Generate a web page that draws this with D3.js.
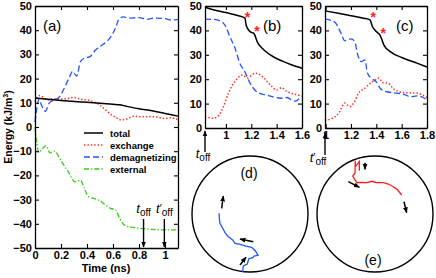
<!DOCTYPE html>
<html><head><meta charset="utf-8">
<script src="https://cdn.jsdelivr.net/npm/d3@7"></script>
<style>
body{margin:0;background:#fff;}
svg{display:block;font-family:"Liberation Sans",Arial,sans-serif;}
.tick text{font-size:11px;font-weight:bold;fill:#000;}
</style></head><body>
<script>
// ---------- Panel (a) data ----------
const totalT = [0, 0.2, 0.4, 0.6, 0.65, 0.7, 0.8, 0.9, 1.0, 1.1];
const totalV = [12, 11, 10.2, 9.4, 9.2, 8.6, 7.5, 6.7, 5.6, 4.5];
const exchangeT = [0, 0.02, 0.04, 0.07, 0.1, 0.14, 0.2, 0.25, 0.3, 0.35, 0.42, 0.46, 0.5, 0.54, 0.58, 0.62, 0.66, 0.7, 0.76, 0.82, 0.88, 0.95, 1.0, 1.05, 1.1];
const exchangeV = [10.5, 12.5, 13, 12, 11.2, 11.7, 11.5, 11.8, 12.2, 11.5, 11, 10.2, 9, 7.2, 5.3, 4, 3, 3.2, 4.5, 4.2, 4.3, 4, 3.5, 3.8, 3];
const demagT = [0, 0.015, 0.03, 0.05, 0.08, 0.11, 0.14, 0.18, 0.22, 0.26, 0.29, 0.32, 0.35, 0.38, 0.42, 0.47, 0.52, 0.58, 0.62, 0.65, 0.68, 0.72, 0.8, 0.86, 0.92, 1.0, 1.05, 1.1];
const demagV = [2, 8, 11.5, 9, 6.5, 10, 11, 12, 15.5, 20, 23, 21, 27, 28.5, 29, 32, 34, 37, 41, 45, 45.5, 45, 45.2, 44.5, 45, 44.8, 44.2, 44.5];
const externalT = [0, 0.01, 0.03, 0.05, 0.085, 0.115, 0.15, 0.2, 0.25, 0.31, 0.35, 0.38, 0.41, 0.45, 0.5, 0.55, 0.58, 0.62, 0.65, 0.7, 0.8, 0.9, 1.0, 1.1];
const externalV = [0, -5, -10.5, -9.5, -7.7, -10.7, -10, -14, -18, -22.7, -22, -25.4, -28.7, -29.5, -30.5, -32.5, -33.6, -34.2, -37.7, -40.9, -41.8, -42.3, -42.5, -42.5];
const tOff = 0.835, tOffPrime = 0.995;
const xTicksA = [0, 0.2, 0.4, 0.6, 0.8, 1];
const yTicksA = [-50, -40, -30, -20, -10, 0, 10, 20, 30, 40, 50];
const legendLabels = ["total", "exchange", "demagnetizing", "external"];

// ---------- Panel (b) data ----------
const bTotalT = [0.835, 0.9, 1.0, 1.1, 1.15, 1.16, 1.19, 1.22, 1.25, 1.3, 1.38, 1.45, 1.51, 1.6];
const bTotalV = [49.5, 48.5, 47.3, 46, 45, 42, 39.5, 38.8, 35, 32, 29, 27.3, 26, 24.5];
const bDemagT = [0.835, 0.9, 0.95, 0.98, 1.0, 1.03, 1.07, 1.11, 1.15, 1.19, 1.24, 1.28, 1.32, 1.37, 1.43, 1.48, 1.52, 1.55, 1.58, 1.6];
const bDemagV = [44.6, 44.5, 44, 43, 41.5, 37.5, 33, 26.5, 23, 18.4, 15, 14, 13.5, 12.8, 12.2, 12.5, 11.5, 11, 12, 11.5];
const bExchT = [0.835, 0.87, 0.9, 0.93, 0.96, 0.98, 1.02, 1.07, 1.13, 1.17, 1.2, 1.23, 1.3, 1.35, 1.4, 1.44, 1.48, 1.53, 1.57, 1.6];
const bExchV = [4.5, 4.2, 4, 4.5, 6.5, 8.7, 14.3, 19, 21.7, 20.5, 21.5, 22.5, 20.5, 17.6, 15.6, 16.5, 15, 14, 13.5, 13];
const bStarT = [1.17, 1.245];
const bStarV = [46, 40];
const xTicksB = [1, 1.2, 1.4, 1.6];

// ---------- Panel (c) data ----------
const cTotalT = [0.995, 1.1, 1.2, 1.3, 1.35, 1.37, 1.4, 1.43, 1.46, 1.51, 1.61, 1.72, 1.8];
const cTotalV = [48, 47, 46, 45, 44.3, 41.5, 39.5, 38, 34, 31.3, 28.7, 26.6, 25];
const cDemagT = [0.995, 1.07, 1.12, 1.15, 1.2, 1.23, 1.25, 1.28, 1.31, 1.33, 1.36, 1.4, 1.43, 1.47, 1.56, 1.62, 1.67, 1.72, 1.77, 1.8];
const cDemagV = [44.6, 43.5, 39, 35.8, 36.5, 35.4, 30.6, 27.2, 27.9, 22.5, 20.4, 18.9, 16.3, 15, 14.3, 13.8, 12.8, 13.2, 12.5, 11.5];
const cExchT = [0.995, 1.06, 1.11, 1.15, 1.19, 1.22, 1.26, 1.31, 1.35, 1.39, 1.42, 1.45, 1.49, 1.54, 1.62, 1.72, 1.8];
const cExchV = [3.2, 4.1, 6.6, 10.2, 8.8, 10.1, 14.3, 16.3, 18.3, 19.7, 20.5, 18.6, 18.4, 15.9, 14.5, 14.3, 12.5];
const cStarT = [1.375, 1.455];
const cStarV = [45.8, 39.5];
const xTicksC = [1, 1.2, 1.4, 1.6, 1.8];
const yTicksBC = [0, 10, 20, 30, 40, 50];

// ---------- Panels (d), (e): magnetization paths in unit-disc coordinates ----------
const dPathU = [-0.126, -0.116, -0.047, -0.022, 0.047, 0.069, 0.138, 0.091, 0.029, -0.069, -0.172, -0.259, -0.298, -0.374, -0.431, -0.471, -0.517, -0.529, -0.534];
const dPathV = [-1.0, -0.897, -0.862, -0.771, -0.753, -0.724, -0.712, -0.633, -0.574, -0.552, -0.522, -0.505, -0.448, -0.391, -0.322, -0.246, -0.160, -0.074, 0.012];
const dArrows = [[-0.488, 0.098, -0.460, 0.310], [0.057, -0.478, -0.172, -0.431], [-0.172, -0.879, -0.069, -0.747]];
const ePathU = [-0.270, -0.270, -0.340, -0.340, -0.345, -0.384, -0.316, -0.247, -0.143, -0.057, 0.029, 0.143, 0.229, 0.316, 0.391, 0.460];
const ePathV = [0.747, 0.902, 0.816, 0.919, 0.702, 0.655, 0.540, 0.546, 0.540, 0.564, 0.540, 0.540, 0.517, 0.471, 0.414, 0.328];
const eArrows = [[-0.172, 0.884, -0.172, 0.770], [-0.460, 0.557, -0.270, 0.460], [0.5, 0.212, 0.546, 0.022]];

// ---------- styles ----------
const styles = {
  total: {stroke: "#000", dash: null, w: 1.5},
  exchange: {stroke: "#ff2a1a", dash: "1.4,2", w: 1.5},
  demag: {stroke: "#2255ff", dash: "6,3", w: 1.3},
  external: {stroke: "#33cc11", dash: "5,2,1.3,2", w: 1.3}
};

const W = 436, H = 278;
const svg = d3.select("body").append("svg").attr("width", W).attr("height", H);
const defs = svg.append("defs");
defs.append("marker").attr("id", "ah").attr("viewBox", "0 0 10 10").attr("refX", 9).attr("refY", 5)
  .attr("markerWidth", 6).attr("markerHeight", 6).attr("markerUnits", "userSpaceOnUse").attr("orient", "auto")
  .append("path").attr("d", "M0,1 L10,5 L0,9 Z").attr("fill", "#000");

function zip(t, v) { return t.map((d, i) => [d, v[i]]); }

function drawFrame(g, x, y, xt, yt) {
  const [x0, x1] = x.range(), [y0, y1] = y.range();
  const ts = 4;
  g.append("g").attr("transform", `translate(0,${y0})`)
    .call(d3.axisBottom(x).tickValues(xt).tickSizeInner(-ts).tickSizeOuter(0).tickPadding(3).tickFormat(d3.format("~g")));
  g.append("g").attr("transform", `translate(0,${y1})`)
    .call(d3.axisTop(x).tickValues(xt).tickSizeInner(-ts).tickSizeOuter(0).tickFormat(""));
  g.append("g").attr("transform", `translate(${x0},0)`)
    .call(d3.axisLeft(y).tickValues(yt).tickSizeInner(-ts).tickSizeOuter(0).tickPadding(3));
  g.append("g").attr("transform", `translate(${x1},0)`)
    .call(d3.axisRight(y).tickValues(yt).tickSizeInner(-ts).tickSizeOuter(0).tickFormat(""));
  g.selectAll(".domain").attr("stroke", "#000").attr("stroke-width", 1.3);
  g.selectAll(".tick line").attr("stroke", "#000").attr("stroke-width", 1.1);
}

function drawSeries(g, x, y, t, v, st) {
  g.append("path").datum(zip(t, v))
    .attr("d", d3.line().x(d => x(d[0])).y(d => y(d[1])).curve(d3.curveMonotoneX))
    .attr("fill", "none").attr("stroke", st.stroke).attr("stroke-width", st.w)
    .attr("stroke-dasharray", st.dash);
}

function tLabel(g, xx, yy, prime) {
  const t = g.append("text").attr("x", xx).attr("y", yy).attr("text-anchor", "middle")
    .attr("font-size", 13).attr("fill", "#000");
  t.append("tspan").attr("font-style", "italic").text("t");
  if (prime) t.append("tspan").attr("font-size", 11).attr("dy", -1).text("′");
  t.append("tspan").attr("font-size", 10).attr("dy", prime ? 4 : 3).text("off");
}

function arrow(g, x1, y1, x2, y2, w) {
  g.append("line").attr("x1", x1).attr("y1", y1).attr("x2", x2).attr("y2", y2)
    .attr("stroke", "#000").attr("stroke-width", w || 1.4).attr("marker-end", "url(#ah)");
}

// ===== Panel (a) =====
const xa = d3.scaleLinear().domain([0, 1.1]).range([35, 178]);
const ya = d3.scaleLinear().domain([-50, 50]).range([248, 6]);
const ga = svg.append("g");
drawSeries(ga, xa, ya, externalT, externalV, styles.external);
drawSeries(ga, xa, ya, demagT, demagV, styles.demag);
drawSeries(ga, xa, ya, exchangeT, exchangeV, styles.exchange);
drawSeries(ga, xa, ya, totalT, totalV, styles.total);
drawFrame(ga, xa, ya, xTicksA, yTicksA);
ga.append("text").attr("x", 43).attr("y", 31).attr("font-size", 15).text("(a)");
// legend
const legStyles = [styles.total, styles.exchange, styles.demag, styles.external];
legendLabels.forEach((lab, i) => {
  const yy = 133 + i * 12;
  ga.append("line").attr("x1", 84).attr("x2", 103).attr("y1", yy).attr("y2", yy)
    .attr("stroke", legStyles[i].stroke).attr("stroke-width", legStyles[i].w)
    .attr("stroke-dasharray", legStyles[i].dash);
  ga.append("text").attr("x", 110).attr("y", yy + 3.5).attr("font-size", 9.5).attr("font-weight", "bold").text(lab);
});
// t_off markers
tLabel(ga, xa(tOff), 213, false);
arrow(ga, xa(tOff), 219, xa(tOff), 247);
tLabel(ga, xa(tOffPrime), 213, true);
arrow(ga, xa(tOffPrime), 219, xa(tOffPrime), 247);
// axis titles
ga.append("text").attr("x", 106).attr("y", 272).attr("text-anchor", "middle")
  .attr("font-size", 11).attr("font-weight", "bold").text("Time (ns)");
const yl = ga.append("text").attr("transform", "translate(12,127) rotate(-90)").attr("text-anchor", "middle")
  .attr("font-size", 10.5).attr("font-weight", "bold");
yl.append("tspan").text("Energy (kJ/m");
yl.append("tspan").attr("font-size", 7).attr("dy", -4).text("3");
yl.append("tspan").attr("dy", 4).text(")");

// ===== Panel (b) =====
const xb = d3.scaleLinear().domain([0.835, 1.6]).range([205, 302]);
const yb = d3.scaleLinear().domain([0, 50]).range([128, 6]);
const gb = svg.append("g");
drawSeries(gb, xb, yb, bExchT, bExchV, styles.exchange);
drawSeries(gb, xb, yb, bDemagT, bDemagV, styles.demag);
drawSeries(gb, xb, yb, bTotalT, bTotalV, styles.total);
drawFrame(gb, xb, yb, xTicksB, yTicksBC);
gb.selectAll(".star").data(zip(bStarT, bStarV)).join("text")
  .attr("x", d => xb(d[0])).attr("y", d => yb(d[1]) + 6).attr("text-anchor", "middle")
  .attr("font-size", 14).attr("font-weight", "bold").attr("fill", "#ff2020").text("*");
gb.append("text").attr("x", 263).attr("y", 31).attr("font-size", 15).text("(b)");
arrow(gb, xb(tOff), 152, xb(tOff), 131);
tLabel(gb, xb(tOff) - 2, 158, false);

// ===== Panel (c) =====
const xc = d3.scaleLinear().domain([0.995, 1.8]).range([325, 427]);
const yc = d3.scaleLinear().domain([0, 50]).range([128, 6]);
const gc = svg.append("g");
drawSeries(gc, xc, yc, cExchT, cExchV, styles.exchange);
drawSeries(gc, xc, yc, cDemagT, cDemagV, styles.demag);
drawSeries(gc, xc, yc, cTotalT, cTotalV, styles.total);
drawFrame(gc, xc, yc, xTicksC, yTicksBC);
gc.selectAll(".star").data(zip(cStarT, cStarV)).join("text")
  .attr("x", d => xc(d[0])).attr("y", d => yc(d[1]) + 6).attr("text-anchor", "middle")
  .attr("font-size", 14).attr("font-weight", "bold").attr("fill", "#ff2020").text("*");
gc.append("text").attr("x", 396).attr("y", 31).attr("font-size", 15).text("(c)");
arrow(gc, xc(tOffPrime), 155, xc(tOffPrime), 133);
tLabel(gc, xc(tOffPrime) - 7, 162, true);

// ===== Panels (d), (e) =====
function disc(cx, cy, r, pu, pv, arrows, color, label, lx, ly) {
  const su = d3.scaleLinear().domain([-1, 1]).range([cx - r, cx + r]);
  const sv = d3.scaleLinear().domain([-1, 1]).range([cy + r, cy - r]);
  const g = svg.append("g");
  g.append("circle").attr("cx", su(0)).attr("cy", sv(0)).attr("r", su(1) - su(0))
    .attr("fill", "none").attr("stroke", "#000").attr("stroke-width", 1.4);
  g.append("path").datum(zip(pu, pv)).attr("d", d3.line().x(d => su(d[0])).y(d => sv(d[1])))
    .attr("fill", "none").attr("stroke", color).attr("stroke-width", 1.3);
  arrows.forEach(a => arrow(g, su(a[0]), sv(a[1]), su(a[2]), sv(a[3]), 1.5));
  g.append("text").attr("x", lx).attr("y", ly).attr("font-size", 14).attr("text-anchor", "middle").text(label);
}
disc(250, 214, 58, dPathU, dPathV, dArrows, "#2255ff", "(d)", 249, 178);
disc(375, 214, 58, ePathU, ePathV, eArrows, "#ff1a1a", "(e)", 373, 265);
</script></body></html>
